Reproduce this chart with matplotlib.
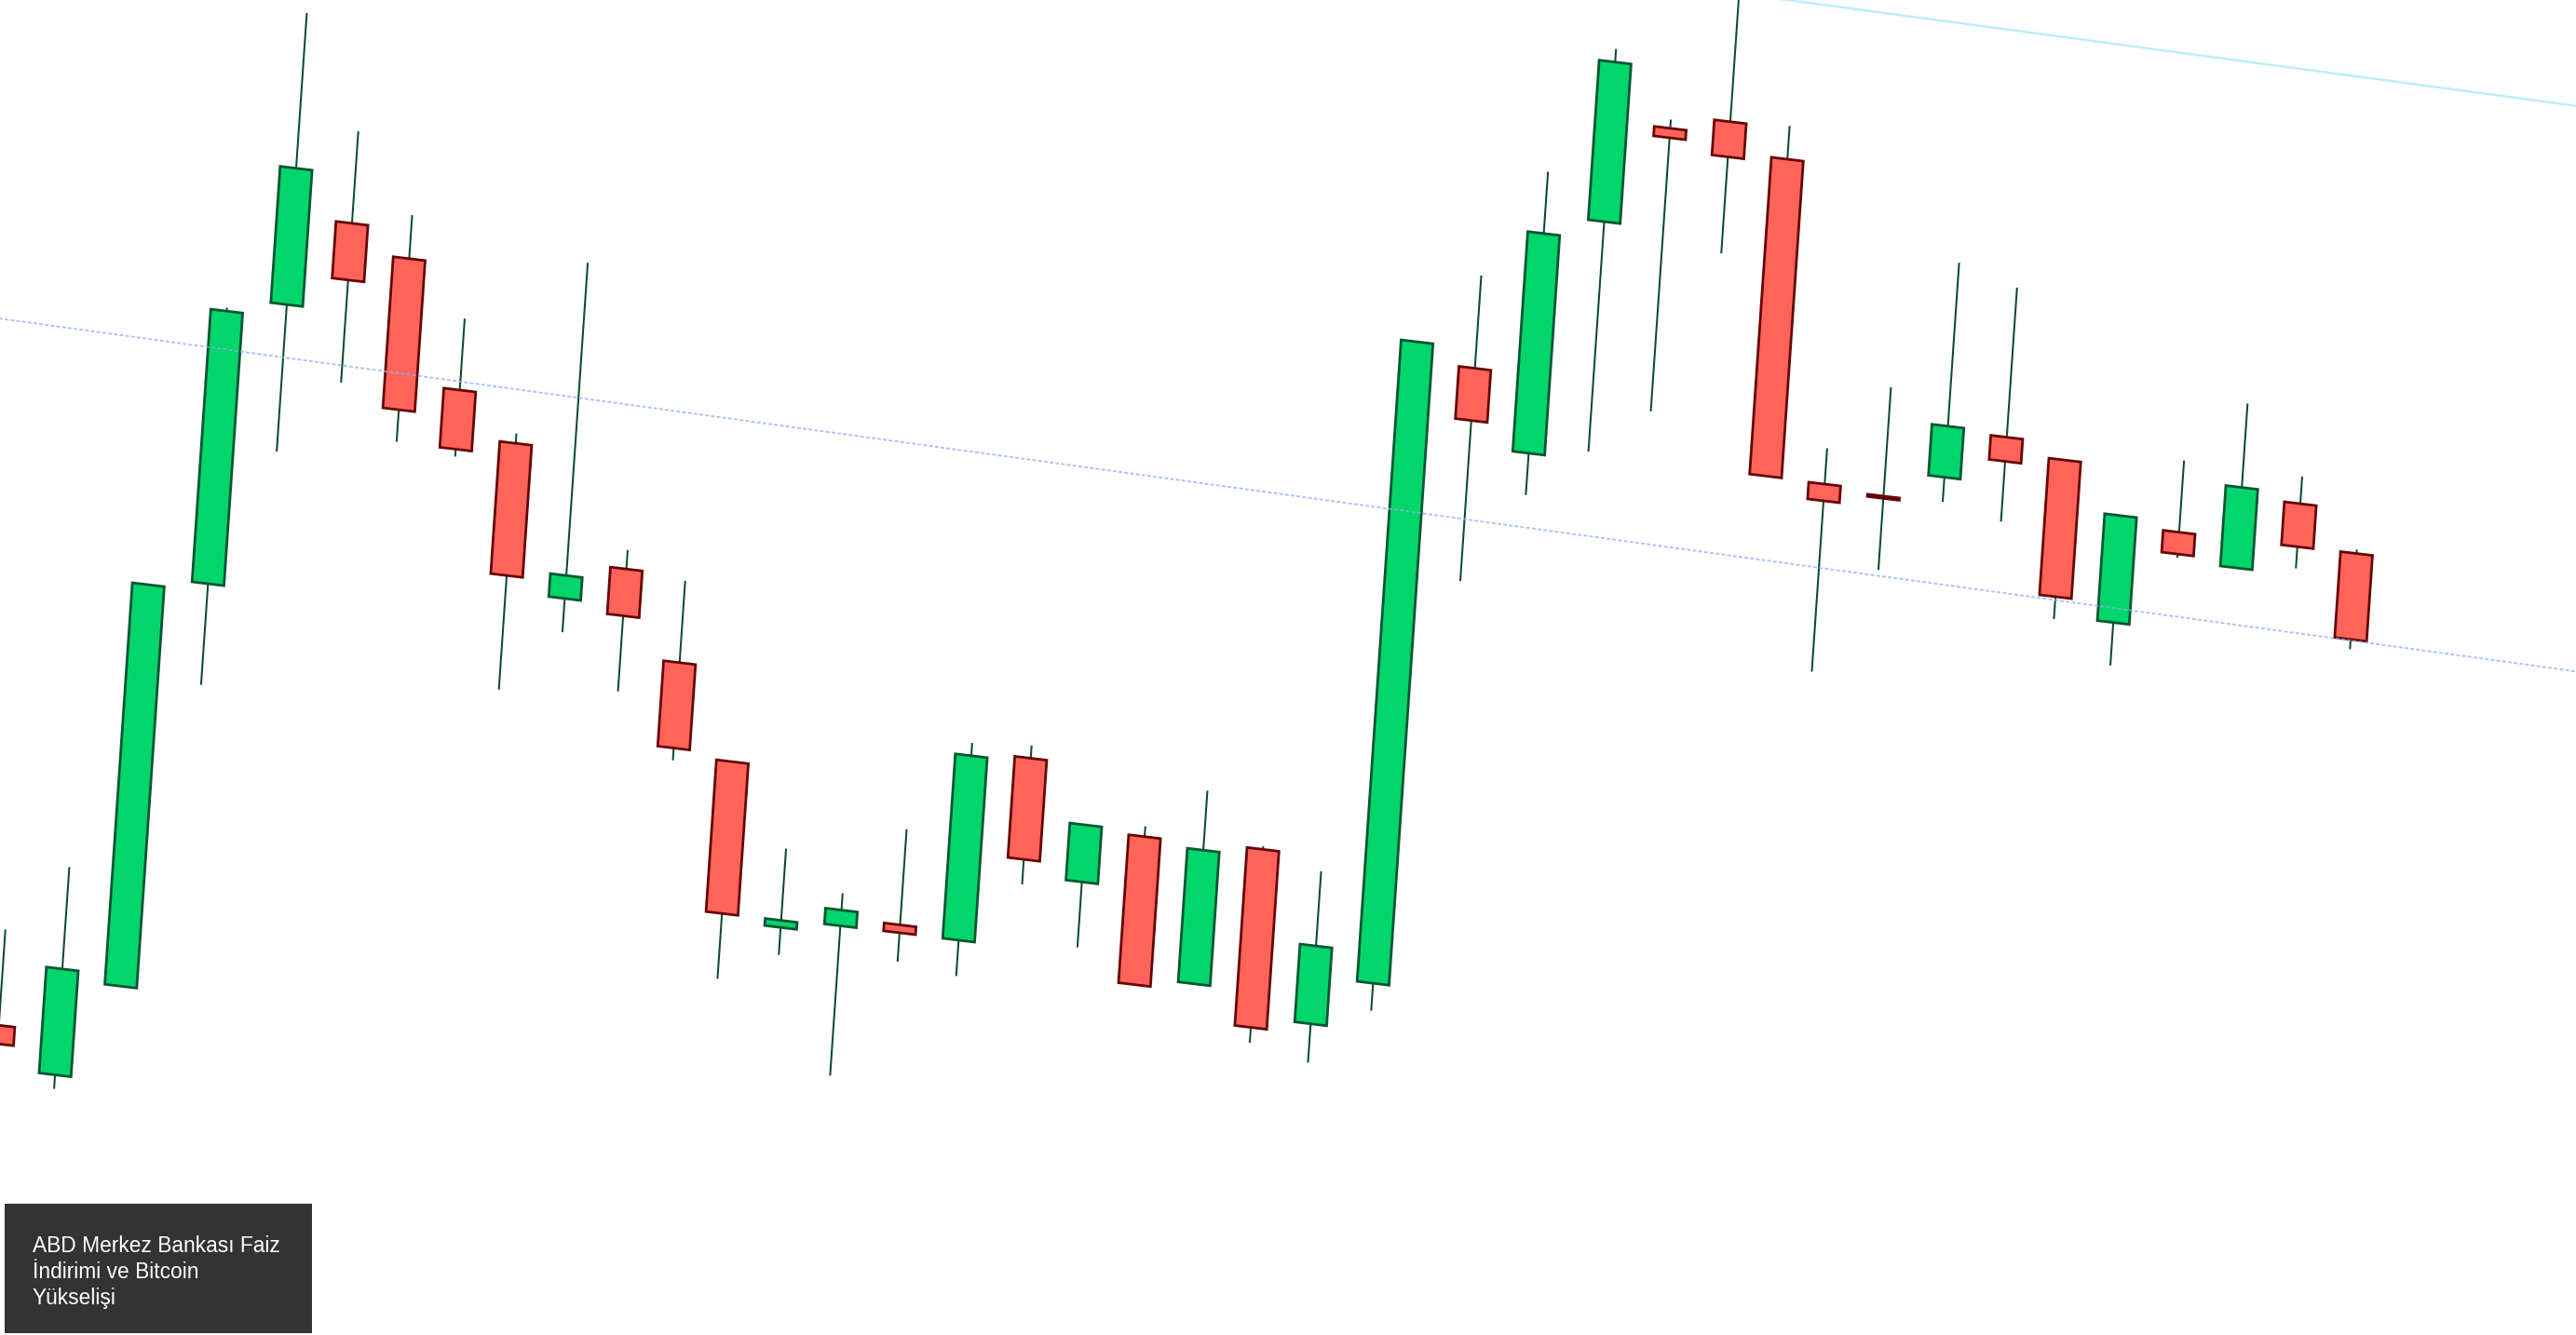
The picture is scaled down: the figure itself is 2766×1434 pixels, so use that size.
import numpy as np
import matplotlib.pyplot as plt
from matplotlib.patches import Rectangle
from matplotlib.transforms import Affine2D

# daily candles (BTC/USD)
opens = [50757, 50498, 51081, 53575, 55318, 55856, 55684, 54927, 54646, 53744,
         53967, 53440, 52880, 51914, 51967, 52016, 51966, 53117, 52407, 52726,
         51873, 52735, 51716, 52006, 55794, 55320, 56773, 57385, 57468, 57283,
         55348, 55318, 55476, 55763, 55667, 54721, 55314, 55140, 55574, 55314]
highs = [51340, 51763, 53526, 55256, 57093, 56416, 55949, 55362, 54706, 55789,
         54082, 53938, 52880, 52394, 52165, 52599, 53167, 53195, 52754, 52789,
         53049, 52754, 52645, 55912, 56359, 57034, 57825, 57438, 58510, 57486,
         55566, 55980, 56782, 56674, 55667, 55372, 55751, 56141, 55740, 55338]
lows = [50630, 50413, 51081, 52960, 54423, 54886, 54569, 54522, 53146, 53539,
        53222, 52845, 51558, 51747, 51055, 51792, 51748, 52349, 52009, 51825,
        51873, 51557, 51480, 51839, 54498, 55066, 55373, 55661, 56667, 55354,
        54206, 54868, 55326, 55249, 54699, 54460, 55159, 55140, 55180, 54731]
closes = [50644, 51143, 53526, 55235, 56148, 55511, 54764, 54567, 53841, 53884,
          53682, 52920, 51956, 51957, 52063, 51968, 53089, 52501, 52754, 51825,
          52687, 51651, 52190, 55912, 55476, 56658, 57745, 57327, 57254, 55354,
          55246, 55304, 55787, 55616, 54835, 55372, 55181, 55630, 55312, 54791]

# trend lines (candle index, price)
support_x = [-2, 45]
support_y = [55033, 54748]
resist_x = [20, 45]
resist_y = [58290, 58162]

caption = "ABD Merkez Bankası Faiz\nİndirimi ve Bitcoin\nYükselişi"

fig = plt.figure(figsize=(27.66, 14.34), dpi=100)
ax = fig.add_axes([0, 0, 1, 1])
ax.set_xlim(-0.57, 42.99)
ax.set_ylim(49787, 57916)
ax.axis('off')

# the chart in the picture is tilted, so shear everything around the centre
w_px, h_px = fig.bbox.width, fig.bbox.height
tilt = (Affine2D().translate(-w_px / 2, -h_px / 2)
        .skew(np.arctan(0.0686), np.arctan(-0.12))
        .translate(w_px / 2, h_px / 2))
tr = ax.transData + tilt

x = np.arange(len(opens))
o = np.array(opens)
c = np.array(closes)
up = c >= o
body_colors = ['#00d66b' if u else '#ff6359' for u in up]
edge_colors = ['#0a5532' if u else '#650606' for u in up]

ax.vlines(x, lows, highs, colors='#0a4a2c', linewidth=1.45, transform=tr, zorder=2)
ax.bar(x, np.abs(c - o), bottom=np.minimum(o, c), width=0.54,
       color=body_colors, edgecolor=edge_colors, linewidth=2.0,
       transform=tr, zorder=3)

ax.plot(support_x, support_y, color='#8fb0f0', lw=1.4, ls=(0, (2, 1.2)),
        alpha=0.75, transform=tr, zorder=4)
ax.plot(resist_x, resist_y, color='#bdeff6', lw=1.8, transform=tr, zorder=4)

ax.set_xlim(-0.57, 42.99)
ax.set_ylim(49787, 57916)

fig.add_artist(Rectangle((5 / 2766, 2 / 1434), 330 / 2766, 139 / 1434,
                         transform=fig.transFigure, facecolor='#333333',
                         edgecolor='none'))
fig.text(35 / 2766, 107 / 1434, caption, color='white', fontsize=16.4,
         family='Liberation Sans', ha='left', va='top', linespacing=1.28)

fig.savefig('out.png', dpi=100)
